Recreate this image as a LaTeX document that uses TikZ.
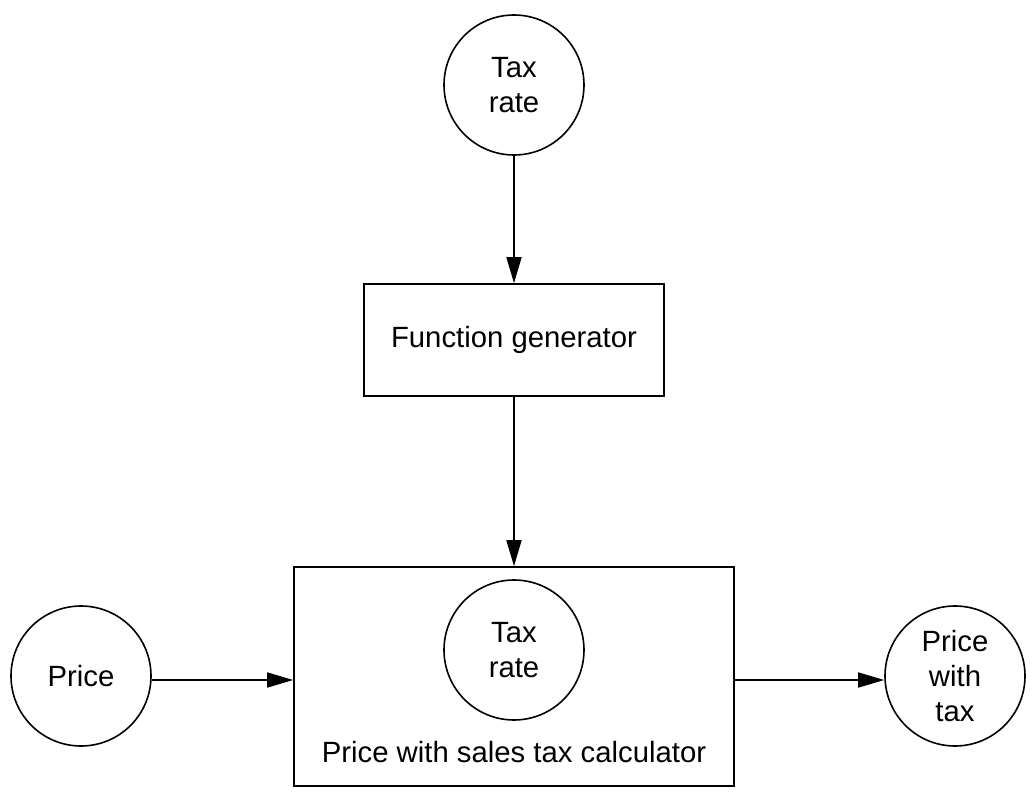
\documentclass[tikz,border=0pt]{standalone}
\usepackage{fontspec}
\setmainfont{Liberation Sans}
\usetikzlibrary{arrows.meta}
\begin{document}
\begin{tikzpicture}[x=1pt,y=-1pt,
  every node/.style={font=\fontsize{29.3}{35}\selectfont, align=center},
  circ/.style={draw, line width=1.6pt, circle, minimum size=140pt, inner sep=0pt},
  boxnode/.style={draw, line width=1.6pt, rectangle, inner sep=0pt},
  conn/.style={line width=1.6pt, -{Triangle[length=26pt,width=15pt]}}]
\useasboundingbox (0,0) rectangle (1034,797);
\node[circ] (taxtop) at (514,85) {Tax\\rate};
\node[boxnode, minimum width=300pt, minimum height=112pt] (gen) at (514,340) {Function generator};
\node[boxnode, minimum width=440pt, minimum height=219pt] (calc) at (514,676.5) {};
\node[circ] (taxin) at (514,650) {Tax\\rate};
\node (calclabel) at (514,752) {Price with sales tax calculator};
\node[circ] (price) at (81,676) {Price};
\node[circ] (pwt) at (955,676) {Price\\with\\tax};
\draw[conn] (taxtop) -- (gen);
\draw[conn] (gen) -- (calc);
\draw[conn] (price.east |- 0,680) -- (calc.west |- 0,680);
\draw[conn] (calc.east |- 0,680) -- (pwt.west |- 0,680);
\end{tikzpicture}
\end{document}
